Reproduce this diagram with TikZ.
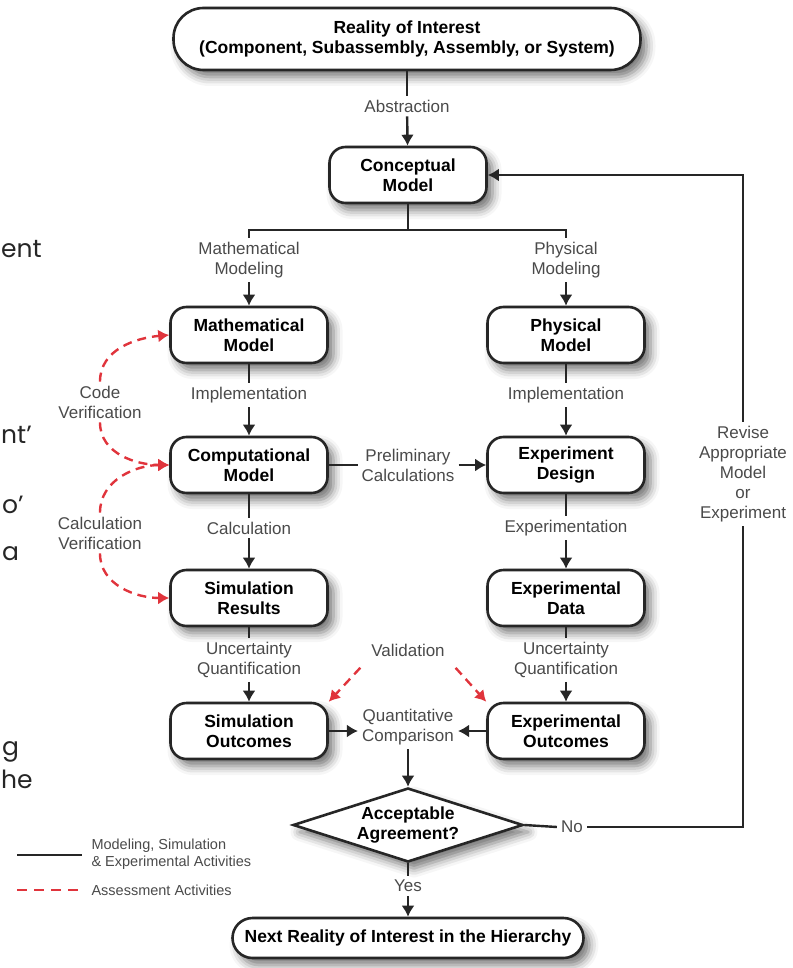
\documentclass[tikz,border=0pt]{standalone}
\usepackage{fontspec}
\setmainfont{Liberation Sans}
\newfontfamily\slidefont{Poppins}
\usetikzlibrary{arrows.meta,shapes.geometric,shadows.blur}
\definecolor{lblgray}{HTML}{4A4A4A}
\definecolor{assred}{HTML}{E0343C}

\begin{document}
\begin{tikzpicture}[x=1pt,y=-1pt,
    box/.style={draw=black!85,line width=2.6pt,fill=white,rounded corners=16pt,
      minimum width=157pt,minimum height=56pt,align=center,
      font=\bfseries\fontsize{17.5}{20.5}\selectfont,
      blur shadow={shadow xshift=6pt,shadow yshift=-7pt,shadow blur radius=9pt,shadow opacity=55}},
    lbl/.style={text=lblgray,align=center,font=\fontsize{17}{20}\selectfont,inner sep=4pt},
    legtxt/.style={text=lblgray,align=left,anchor=west,font=\fontsize{14.5}{17}\selectfont},
    frag/.style={text=black!85,anchor=base west,inner sep=0pt,font=\slidefont\fontsize{25}{30}\selectfont},
    flow/.style={line width=2.4pt,draw=black!85},
    arr/.style={flow,-{Latex[width=13pt,length=11pt]}},
    ass/.style={draw=assred,line width=2.4pt,dash pattern=on 9pt off 6pt,-{Latex[width=13pt,length=11pt]}}]
    \useasboundingbox (0,0) rectangle (792,968);

    % cut-off slide text on the left
    \node[frag] (f1) at (1,258) {ent};
    \node[frag] (f2) at (1,443) {nt’};
    \node[frag] (f3) at (2,513) {o’};
    \node[frag] (f4) at (2,560) {a};
    \node[frag] (f5) at (2,755) {g};
    \node[frag] (f6) at (1,788) {he};

    % boxes
    \node[box,minimum width=467pt,minimum height=62pt,rounded corners=30pt] (roi) at (407,39)
      {Reality of Interest\\(Component, Subassembly, Assembly, or System)};
    \node[box] (con)  at (408,175) {Conceptual\\Model};
    \node[box] (mmod) at (249,335) {Mathematical\\Model};
    \node[box] (pmod) at (566,335) {Physical\\Model};
    \node[box] (cmod) at (249,465) {Computational\\Model};
    \node[box] (edes) at (566,465) {Experiment\\Design};
    \node[box] (sres) at (249,598) {Simulation\\Results};
    \node[box] (edat) at (566,598) {Experimental\\Data};
    \node[box] (sout) at (249,731) {Simulation\\Outcomes};
    \node[box] (eout) at (566,731) {Experimental\\Outcomes};
    \node[box,diamond,rounded corners=0pt,inner sep=0pt,aspect=3.1,
      minimum width=230pt,minimum height=74pt] (agr) at (408,825) {Acceptable\\Agreement?};
    \node[box,minimum width=351pt,minimum height=40pt,rounded corners=20pt] (next) at (408,938)
      {Next Reality of Interest in the Hierarchy};

    % labels
    \node[lbl] (abs)  at (407,106) {Abstraction};
    \coordinate (split) at (408,230);
    \node[lbl] (mml)  at (249,260) {Mathematical\\Modeling};
    \node[lbl] (pml)  at (566,260) {Physical\\Modeling};
    \node[lbl] (imp1) at (249,395) {Implementation};
    \node[lbl] (imp2) at (566,395) {Implementation};
    \node[lbl] (prel) at (408,465) {Preliminary\\Calculations};
    \node[lbl] (calc) at (249,528) {Calculation};
    \node[lbl] (expm) at (566,528) {Experimentation};
    \node[lbl] (uq1)  at (249,660) {Uncertainty\\Quantification};
    \node[lbl] (uq2)  at (566,660) {Uncertainty\\Quantification};
    \node[lbl] (val)  at (408,650) {Validation};
    \node[lbl] (qc)   at (408,727) {Quantitative\\Comparison};
    \node[lbl] (no)   at (572,827) {No};
    \node[lbl] (yes)  at (408,886) {Yes};
    \node[lbl] (rev)  at (743,474) {Revise\\Appropriate\\Model\\or\\Experiment};
    \node[lbl] (cv)   at (100,402) {Code\\Verification};
    \node[lbl] (clv)  at (100,533) {Calculation\\Verification};

    % modeling, simulation and experiment flow
    \draw[flow] (roi) -- (abs);
    \draw[arr] (abs) -- (con);
    \draw[flow] (con) -- (split) -| (mml);
    \draw[flow] (split) -| (pml);
    \draw[arr] (mml) -- (mmod);
    \draw[arr] (pml) -- (pmod);
    \draw[flow] (mmod) -- (imp1);
    \draw[arr] (imp1) -- (cmod);
    \draw[flow] (pmod) -- (imp2);
    \draw[arr] (imp2) -- (edes);
    \draw[flow] (cmod) -- (prel);
    \draw[arr] (prel) -- (edes);
    \draw[flow] (cmod) -- (calc);
    \draw[arr] (calc) -- (sres);
    \draw[flow] (edes) -- (expm);
    \draw[arr] (expm) -- (edat);
    \draw[flow] (sres) -- (uq1);
    \draw[arr] (uq1) -- (sout);
    \draw[flow] (edat) -- (uq2);
    \draw[arr] (uq2) -- (eout);
    \draw[arr] (sout.east) -- (sout.east -| qc.west);
    \draw[arr] (eout.west) -- (eout.west -| qc.east);
    \draw[arr] (qc) -- (agr);
    \draw[flow] (agr.east) -- (no.west);
    \draw[flow] (no.east) -| (rev.south);
    \draw[arr] (rev.north) |- (con.east);
    \draw[flow] (agr.south) -- (yes.north);
    \draw[arr] (yes) -- (next);

    % assessment
    \draw[ass] (cv.north) to[out=90,in=185] (mmod.west);
    \draw[ass] (cv.south) to[out=-90,in=180] (cmod.west);
    \draw[ass] (clv.north) to[out=90,in=180] (cmod.west);
    \draw[ass] (clv.south) to[out=-90,in=180] (sres.west);
    \draw[ass,shorten <=10pt] (val.south west) -- (sout.north east);
    \draw[ass,shorten <=10pt] (val.south east) -- (eout.north west);

    % legend
    \node[legtxt] (leg1) at (88,854) {Modeling, Simulation\\\& Experimental Activities};
    \node[legtxt] (leg2) at (88,890) {Assessment Activities};
    \coordinate (l1) at (17,855);
    \coordinate (l2) at (17,890);
    \draw[flow,shorten >=6pt] (l1) -- (l1 -| leg1.west);
    \draw[draw=assred,line width=2.4pt,dash pattern=on 10pt off 7pt,shorten >=6pt] (l2) -- (l2 -| leg2.west);
  \end{tikzpicture}
\end{document}
